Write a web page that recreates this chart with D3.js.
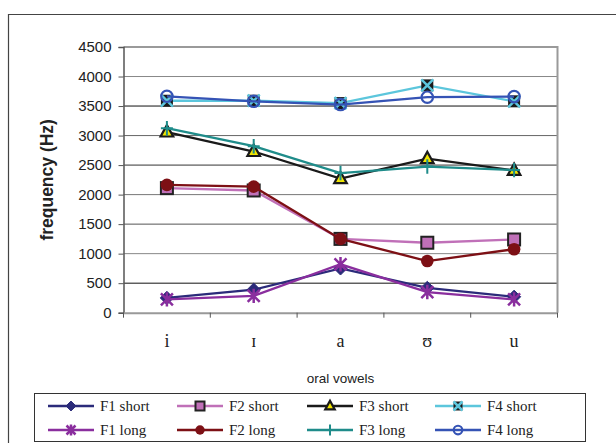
<!DOCTYPE html>
<html><head><meta charset="utf-8">
<script src="https://cdn.jsdelivr.net/npm/d3@7"></script>
<style>body{margin:0;background:#fff}svg{display:block}</style>
</head><body>
<svg id="c" width="616" height="443"></svg>
<script>
const categories = ["i", "ɪ", "a", "ʊ", "u"];
const yTicks = [0, 500, 1000, 1500, 2000, 2500, 3000, 3500, 4000, 4500];
const f1Short = [250, 390, 750, 420, 270];
const f2Short = [2110, 2070, 1250, 1185, 1240];
const f3Short = [3060, 2730, 2270, 2610, 2410];
const f4Short = [3590, 3590, 3550, 3850, 3580];
const f1Long = [225, 285, 820, 350, 225];
const f2Long = [2165, 2135, 1250, 875, 1075];
const f3Long = [3125, 2820, 2365, 2475, 2415];
const f4Long = [3665, 3580, 3525, 3650, 3660];
const seriesNames = ["F1 short", "F2 short", "F3 short", "F4 short", "F1 long", "F2 long", "F3 long", "F4 long"];

const series = [
  {name: seriesNames[0], values: f1Short, color: "#2b2b7a", marker: "diamond"},
  {name: seriesNames[1], values: f2Short, color: "#c070b8", marker: "square"},
  {name: seriesNames[2], values: f3Short, color: "#1a1a1a", marker: "triangle"},
  {name: seriesNames[3], values: f4Short, color: "#5cc6dc", marker: "xsquare"},
  {name: seriesNames[4], values: f1Long, color: "#8a2e9e", marker: "asterisk"},
  {name: seriesNames[5], values: f2Long, color: "#7d1015", marker: "circle"},
  {name: seriesNames[6], values: f3Long, color: "#1f8c8a", marker: "plus"},
  {name: seriesNames[7], values: f4Long, color: "#3553b5", marker: "ocircle"}
];
const drawOrder = [3, 7, 2, 6, 1, 5, 0, 4];

const svg = d3.select("#c");
svg.append("path").attr("d", "M8.5,443 L8.5,14.5 L616,14.5").attr("fill", "none").attr("stroke", "#444").attr("stroke-width", 1.2);

const L = 123.5, R = 557.5, T = 47, B = 312.7;
const x = d3.scaleBand().domain(categories).range([L, R]);
const y = d3.scaleLinear().domain([0, 4500]).range([B, T]);

const gridColors = {500:"#111",1000:"#888",1500:"#555",2000:"#777",2500:"#333",3000:"#666",3500:"#111",4000:"#888"};
svg.append("g").selectAll("line").data(yTicks.filter(t => t > 0 && t < 4500)).join("line")
  .attr("x1", L).attr("x2", R).attr("y1", d => y(d)).attr("y2", d => y(d))
  .attr("stroke", d => gridColors[d] || "#777").attr("stroke-width", 1);

svg.append("path").attr("d", `M${L},${T} L${R},${T} L${R},${B}`).attr("fill", "none").attr("stroke", "#9a9a9a").attr("stroke-width", 2);

const yAxis = d3.axisLeft(y).tickValues(yTicks).tickFormat(d3.format("d")).tickSize(5).tickPadding(7);
const gy = svg.append("g").attr("transform", `translate(${L},0)`).call(yAxis);
gy.select(".domain").attr("stroke", "#555").attr("stroke-width", 1.5);
gy.selectAll(".tick line").attr("stroke", "#555");
gy.selectAll(".tick text").attr("font-family", "Liberation Sans, Arial, sans-serif").attr("font-size", 15).attr("fill", "#222");

const xAxis = d3.axisBottom(x).tickSize(0).tickPadding(22);
const gx = svg.append("g").attr("transform", `translate(0,${B})`).call(xAxis);
gx.select(".domain").attr("stroke", "#999").attr("stroke-width", 2);
gx.selectAll(".tick text").attr("font-family", "Liberation Serif, Times New Roman, serif").attr("font-size", 18).attr("fill", "#222");
const bounds = categories.map(c => x(c)).concat([x(categories[categories.length - 1]) + x.bandwidth()]);
svg.append("g").selectAll("line").data(bounds).join("line")
  .attr("x1", d => d).attr("x2", d => d)
  .attr("y1", B).attr("y2", B + 5).attr("stroke", "#555").attr("stroke-width", 1);

svg.append("text").attr("transform", `translate(53,${(T+B)/2}) rotate(-90)`).attr("text-anchor", "middle")
  .attr("font-family", "Liberation Sans, Arial, sans-serif").attr("font-weight", "bold").attr("font-size", 17.5).attr("fill", "#222")
  .text("frequency (Hz)");
svg.append("text").attr("x", (L+R)/2).attr("y", 383).attr("text-anchor", "middle")
  .attr("font-family", "Liberation Sans, Arial, sans-serif").attr("font-size", 13.5).attr("fill", "#222")
  .text("oral vowels");

function drawMarker(g, type, color, cx, cy, s) {
  const r = s / 2;
  if (type === "diamond") {
    g.append("path").attr("d", `M${cx},${cy-r*1.1} L${cx+r*1.1},${cy} L${cx},${cy+r*1.1} L${cx-r*1.1},${cy} Z`).attr("fill", color).attr("stroke", color);
  } else if (type === "square") {
    g.append("rect").attr("x", cx-r).attr("y", cy-r).attr("width", s).attr("height", s).attr("fill", color).attr("stroke", "#222").attr("stroke-width", 2);
  } else if (type === "triangle") {
    g.append("path").attr("d", `M${cx},${cy-r*1.15} L${cx+r*1.05},${cy+r*0.75} L${cx-r*1.05},${cy+r*0.75} Z`).attr("fill", "#f2e600").attr("stroke", "#1a1a1a").attr("stroke-width", 2.2);
  } else if (type === "xsquare") {
    g.append("rect").attr("x", cx-r).attr("y", cy-r).attr("width", s).attr("height", s).attr("fill", "#1a1a1a");
    g.append("path").attr("d", `M${cx-r},${cy-r} L${cx+r},${cy+r} M${cx+r},${cy-r} L${cx-r},${cy+r}`).attr("stroke", color).attr("stroke-width", 2.5);
  } else if (type === "asterisk") {
    g.append("path").attr("d", `M${cx-r},${cy-r} L${cx+r},${cy+r} M${cx+r},${cy-r} L${cx-r},${cy+r} M${cx},${cy-r*1.2} L${cx},${cy+r*1.2}`).attr("stroke", color).attr("stroke-width", 2.5);
  } else if (type === "circle") {
    g.append("circle").attr("cx", cx).attr("cy", cy).attr("r", r*1.05).attr("fill", color);
  } else if (type === "plus") {
    g.append("path").attr("d", `M${cx-r},${cy} L${cx+r},${cy} M${cx},${cy-r*1.2} L${cx},${cy+r*1.2}`).attr("stroke", color).attr("stroke-width", 2);
  } else if (type === "ocircle") {
    g.append("circle").attr("cx", cx).attr("cy", cy).attr("r", r*0.95).attr("fill", "none").attr("stroke", color).attr("stroke-width", 2.2);
  }
}

const line = d3.line().x((d, i) => x(categories[i]) + x.bandwidth()/2).y(d => y(d));
const plot = svg.append("g");
drawOrder.forEach(k => {
  const s = series[k];
  const g = plot.append("g");
  g.append("path").attr("d", line(s.values)).attr("fill", "none").attr("stroke", s.color).attr("stroke-width", 2.3);
  s.values.forEach((v, i) => drawMarker(g, s.marker, s.color, x(categories[i]) + x.bandwidth()/2, y(v), 12));
});

const lg = svg.append("g");
lg.append("rect").attr("x", 34.5).attr("y", 393.5).attr("width", 551).attr("height", 48).attr("fill", "#fff").attr("stroke", "#333").attr("stroke-width", 1);
const colX = [48, 177, 307, 435];
series.forEach((s, k) => {
  const col = k % 4, row = Math.floor(k / 4);
  const lx = colX[col], ly = 406 + row * 24;
  lg.append("line").attr("x1", lx).attr("x2", lx + 46).attr("y1", ly).attr("y2", ly).attr("stroke", s.color).attr("stroke-width", 2.3);
  drawMarker(lg, s.marker, s.color, lx + 23, ly, 9);
  lg.append("text").attr("x", lx + 52).attr("y", ly + 5).attr("font-family", "Liberation Serif, Times New Roman, serif")
    .attr("font-size", 15).attr("fill", "#222").text(s.name);
});
</script>
</body></html>
